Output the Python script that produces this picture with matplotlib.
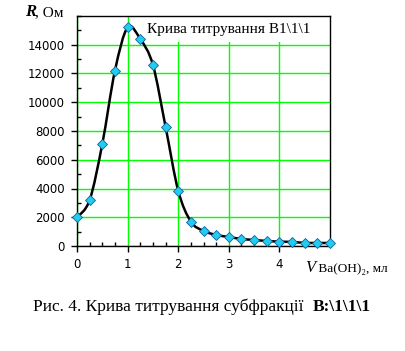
import numpy as np
import matplotlib
matplotlib.use("Agg")
import matplotlib.pyplot as plt
from matplotlib.path import Path
from matplotlib.patches import PathPatch, Rectangle

volume_ml = [0.0, 0.25, 0.5, 0.75, 1.0, 1.25, 1.5, 1.75, 2.0, 2.25, 2.5, 2.75,
             3.0, 3.25, 3.5, 3.75, 4.0, 4.25, 4.5, 4.75, 5.0]
resistance_ohm = [2000, 3200, 7100, 12200, 15200, 14400, 12600, 8300, 3850, 1700,
                  1050, 770, 630, 490, 420, 350, 305, 280, 220, 210, 210]
x_ticks = [0, 1, 2, 3, 4]
y_ticks = [0, 2000, 4000, 6000, 8000, 10000, 12000, 14000]

serif = ['Liberation Serif', 'DejaVu Serif']
sans = ['DejaVu Sans']

fig = plt.figure(figsize=(4.05, 3.51), dpi=100)
ax = fig.add_axes([77/405, 1-246/351, (330-77)/405, (246-16)/351])

ax.set_xlim(0, 5)
ax.set_ylim(0, 16000)
ax.set_xticks(x_ticks)
ax.set_yticks(y_ticks)
ax.set_xticks(np.arange(0, 5.01, 0.25), minor=True)
ax.set_yticks(np.arange(0, 16001, 1000), minor=True)
ax.grid(True, which='major', color='#00ff00', lw=1.0, zorder=1)
ax.tick_params(which='major', direction='out', length=4, width=1, labelsize=8.5, pad=5)
ax.tick_params(which='minor', direction='in', length=3, width=1)
for lab in ax.get_xticklabels() + ax.get_yticklabels():
    lab.set_family(sans)
for s in ax.spines.values():
    s.set_color('black')
    s.set_linewidth(1.0)

# smoothed line (Catmull-Rom as cubic Bezier path)
x = np.array(volume_ml, float)
y = np.array(resistance_ohm, float)
verts = [(x[0], y[0])]
codes = [Path.MOVETO]
n = len(x)
for i in range(n - 1):
    p0 = (x[max(i-1, 0)], y[max(i-1, 0)])
    p1 = (x[i], y[i])
    p2 = (x[i+1], y[i+1])
    p3 = (x[min(i+2, n-1)], y[min(i+2, n-1)])
    c1 = (p1[0] + (p2[0]-p0[0])/6, p1[1] + (p2[1]-p0[1])/6)
    c2 = (p2[0] - (p3[0]-p1[0])/6, p2[1] - (p3[1]-p1[1])/6)
    verts += [c1, c2, p2]
    codes += [Path.CURVE4]*3
ax.add_patch(PathPatch(Path(verts, codes), fill=False, edgecolor='black', lw=1.8, zorder=3))
ax.plot(x, y, ls='none', marker='D', ms=5, mfc='#22ccee', mec='#1060a0', mew=0.6,
        zorder=4, clip_on=False)

# title box
ax.add_patch(Rectangle((138/405, 1-42/351), (329-138)/405, 25.5/351, transform=fig.transFigure,
                       facecolor='white', edgecolor='none', zorder=2.5))
fig.text(147/405, 1-33/351, 'Крива титрування В1\\1\\1', family=serif, fontsize=11,
         ha='left', va='baseline', zorder=5)

# y label
fig.text(25/405, 1-16/351, 'R', family=serif, fontsize=12, style='italic',
         weight='bold', ha='left', va='baseline')
fig.text(35/405, 1-16/351, ', Ом', family=serif, fontsize=11, ha='left', va='baseline')

# x label
fig.text(305/405, 1-272/351, 'V', family=serif, fontsize=12, style='italic',
         ha='left', va='baseline')
fig.text(315/405, 1-272/351, ' Ba(OH)₂, мл', family=serif, fontsize=9.5,
         ha='left', va='baseline')

# caption
t3 = fig.text(33/405, 1-311/351, 'Рис. 4. Крива титрування субфракції  ', family=serif,
              fontsize=12.5, ha='left', va='baseline')
ax.annotate('B:\\1\\1\\1', xy=(1, 0), xycoords=t3, family=serif, fontsize=12.5,
            weight='bold', va='bottom', annotation_clip=False)

fig.savefig('out.png', dpi=100)
